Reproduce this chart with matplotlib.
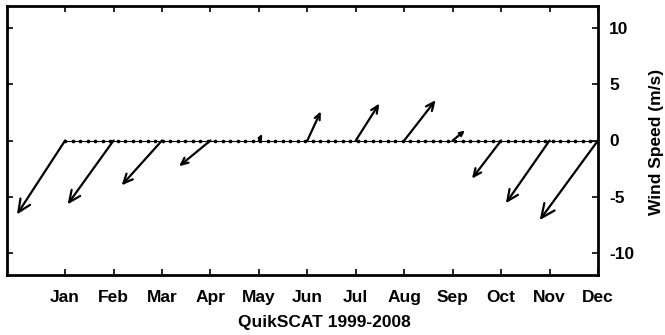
import numpy as np
import matplotlib.pyplot as plt

# Monthly mean wind vectors, QuikSCAT 1999-2008
months = ["Jan", "Feb", "Mar", "Apr", "May", "Jun",
          "Jul", "Aug", "Sep", "Oct", "Nov", "Dec"]
u_wind = [-4.3, -4.1, -3.6, -2.8, 0.3, 1.2, 2.1, 2.8, 1.1, -2.6, -3.9, -5.2]
v_wind = [-6.6, -5.7, -4.0, -2.3, 0.6, 2.6, 3.3, 3.6, 0.9, -3.4, -5.6, -7.1]

# pentad sample positions along the time axis (72 pentads, Jan..Dec)
n_pentads = 72
y_ticks = [-10, -5, 0, 5, 10]

plt.rcParams['font.family'] = ['Liberation Sans', 'DejaVu Sans']
plt.rcParams['font.weight'] = 'bold'
plt.rcParams['axes.unicode_minus'] = False

fig = plt.figure(figsize=(6.65, 3.35), dpi=100)
ax = fig.add_axes([7 / 665, 60 / 335, 591 / 665, 269 / 335])

t_month = np.arange(1, len(months) + 1)
ax.set_xlim(-0.2, 12)
ax.set_ylim(-12, 12)

# baseline with pentad markers
t_pentad = 1 + np.arange(n_pentads) * (len(months) - 1) / (n_pentads - 1)
ax.plot(t_pentad, np.zeros(n_pentads), color="black", lw=0.8,
        marker=".", markersize=3.2)

# stick arrows: scale wind components with the y axis (m/s)
fig.canvas.draw()
p0 = ax.transData.transform((0, 0))
p1 = ax.transData.transform((0, 1))
px_per_ms = p1[1] - p0[1]
pts_per_ms = px_per_ms * 72.0 / fig.dpi

for t, u, v in zip(t_month, u_wind, v_wind):
    # head grows with the arrow length, like quiver heads
    length_px = np.hypot(u, v) * px_per_ms
    head_px = 0.12 * length_px + 2.0
    ax.annotate("", xy=(t, 0), xycoords="data",
                xytext=(u * pts_per_ms, v * pts_per_ms),
                textcoords="offset points",
                arrowprops=dict(arrowstyle="<-, head_length=0.7, head_width=0.32",
                                color="black", lw=1.6, shrinkA=0, shrinkB=0,
                                mutation_scale=head_px / 0.97))

ax.set_xticks(t_month)
ax.set_xticklabels(months)
ax.set_yticks(y_ticks)
ax.yaxis.tick_right()
ax.tick_params(axis="both", direction="in", length=4, width=1.2,
               labelsize=12.5, top=True, left=True, right=True)
ax.tick_params(axis="x", pad=11)
ax.tick_params(axis="y", pad=8)
for lab in ax.get_xticklabels() + ax.get_yticklabels():
    lab.set_fontweight("bold")

for sp in ax.spines.values():
    sp.set_linewidth(2)

fig.text(324 / 665, 1 - 322 / 335, "QuikSCAT 1999-2008", ha="center",
         va="center", fontsize=12.5, fontweight="bold")
fig.text(657 / 665, 1 - 142 / 335, "Wind Speed (m/s)", ha="center",
         va="center", rotation=90, fontsize=12.5, fontweight="bold")

fig.savefig("out.png", dpi=100)
